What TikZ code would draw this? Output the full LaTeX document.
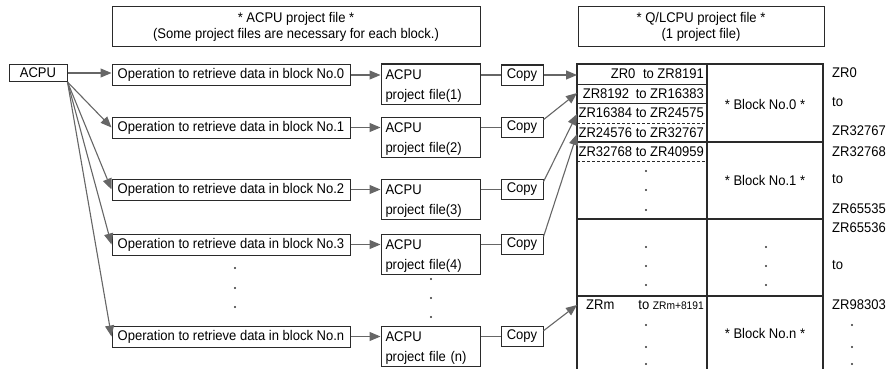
\documentclass[tikz,border=0pt]{standalone}
\usepackage{fontspec}
\setmainfont{Liberation Sans}[FakeStretch=0.93]
\usetikzlibrary{arrows.meta,calc}
\definecolor{ln}{HTML}{666666}
\definecolor{bx}{HTML}{2A2A2A}
\begin{document}
\begin{tikzpicture}[x=1pt,y=-1pt,
  font=\fontsize{14}{16}\selectfont,
  box/.style={draw=bx, line width=1pt, inner sep=0pt, text=black},
  hdrbox/.style={box, minimum height=40pt, align=center, font=\fontsize{14}{16}\selectfont},
  opbox/.style={box, minimum width=238pt, minimum height=21pt},
  pfbox/.style={box, minimum width=99pt, minimum height=40pt},
  pftext/.style={inner sep=0pt, text width=90pt, align=left, yshift=-2.5pt, font=\fontsize{14}{20}\selectfont},
  copybox/.style={box, minimum width=42pt, minimum height=20pt},
  conn/.style={draw=ln, line width=1.1pt},
  arr/.style={conn, -{Triangle[length=11pt,width=9pt,fill=ln]}},
  tbl/.style={draw=bx, line width=1.3pt},
  tbldash/.style={draw=bx, line width=1pt, dash pattern=on 3pt off 2pt}]
\useasboundingbox (0,0) rectangle (888,369);

% headers
\node[hdrbox, minimum width=368pt] (hdr1) at (296,27) {* ACPU project file *\\(Some project files are necessary for each block.)};
\node[hdrbox, minimum width=246pt] (hdr2) at (701,27) {* Q/LCPU project file *\\(1 project file)};

% ACPU source
\node[box, minimum width=58pt, minimum height=17pt] (acpu) at (38,73) {ACPU};

% operation boxes
\node[opbox] (op0) at (231,75) {Operation to retrieve data in block No.0};
\node[opbox] (op1) at (231,127.5) {Operation to retrieve data in block No.1};
\node[opbox] (op2) at (231,189.5) {Operation to retrieve data in block No.2};
\node[opbox] (op3) at (231,244.5) {Operation to retrieve data in block No.3};
\node[opbox] (opn) at (231,336.5) {Operation to retrieve data in block No.n};

% ACPU project file boxes
\node[pfbox, label={[pftext]center:{ACPU\\project file(1)}}] (pf0) at (430.5,84) {};
\node[pfbox, label={[pftext]center:{ACPU\\project file(2)}}] (pf1) at (430.5,137) {};
\node[pfbox, label={[pftext]center:{ACPU\\project file(3)}}] (pf2) at (430.5,199) {};
\node[pfbox, label={[pftext]center:{ACPU\\project file(4)}}] (pf3) at (430.5,254) {};
\node[pfbox, label={[pftext]center:{ACPU\\project file (n)}}] (pfn) at (430.5,346) {};

% copy boxes
\node[copybox] (cp0) at (522,75) {Copy};
\node[copybox] (cp1) at (522,127.5) {Copy};
\node[copybox] (cp2) at (522,189.5) {Copy};
\node[copybox] (cp3) at (522,244.5) {Copy};
\node[copybox] (cpn) at (522,336.5) {Copy};

% fan arrows from ACPU
\draw[arr] (acpu.east) -- (acpu.east -| op0.west);
\draw[arr] (acpu.south east) -- (op1.west);
\draw[arr] (acpu.south east) -- (op2.west);
\draw[arr] (acpu.south east) -- (op3.west);
\draw[arr] (acpu.south east) -- (opn.west);

% op -> project file -> copy
\foreach \k in {0,1,2,3,n}{
  \draw[arr] (op\k.east) -- (op\k.east -| pf\k.west);
  \draw[conn] (op\k.east -| pf\k.east) -- (cp\k.west);
}

% vertical dots
\foreach \yy in {268,288,307}{\fill[black!80] (235,\yy) circle (1.2pt);}
\foreach \yy in {279,298,317}{\fill[black!80] (431,\yy) circle (1.2pt);}

% table
\draw[tbl] (577,369) -- (577,64) -- (823,64) -- (823,369);
\draw[tbl] (707,64) -- (707,369);
\draw[tbl] (577,142) -- (823,142);
\draw[tbl] (577,219) -- (823,219);
\draw[tbl] (577,296) -- (823,296);
\draw[draw=bx, line width=1pt] (577,84) -- (707,84);
\draw[draw=bx, line width=1pt] (577,103) -- (707,103);
\draw[tbldash] (577,123) -- (707,123);
\draw[tbldash] (577,161) -- (707,161);

% row targets
\coordinate (r0) at (577,75);
\coordinate (r1) at (577,93);
\coordinate (r2) at (577,114);
\coordinate (r3) at (577,134);
\coordinate (rm) at (577,305);

\draw[arr] (cp0.east) -- (r0);
\draw[arr] (cp1.20) -- (r1);
\draw[arr] (cp2.20) -- (r2);
\draw[arr] (cp3.20) -- (r3);
\draw[arr] (cpn.15) -- (rm);

% left column texts
\node[anchor=east, inner sep=0pt] (t0) at (704,74) {ZR0\hspace{4pt} to ZR8191};
\node[anchor=east, inner sep=0pt] (t1) at (704,93.5) {ZR8192\hspace{3pt} to ZR16383};
\node[anchor=east, inner sep=0pt] (t2) at (704,113) {ZR16384 to ZR24575};
\node[anchor=east, inner sep=0pt] (t3) at (704,132.5) {ZR24576 to ZR32767};
\node[anchor=east, inner sep=0pt] (t4) at (704,151.5) {ZR32768 to ZR40959};
\node[anchor=west, inner sep=0pt] (tm1) at (586,305) {ZRm};
\node[anchor=east, inner sep=0pt] (tm2) at (704,305) {to {\fontsize{11}{12}\selectfont ZRm+8191}};

% table dots
\foreach \yy in {171,190,210,247,266,285,325,347,364}{\fill[black!80] (646,\yy) circle (1.2pt);}
\foreach \yy in {247,266,285}{\fill[black!80] (766,\yy) circle (1.2pt);}
\foreach \yy in {325,347,364}{\fill[black!80] (852,\yy) circle (1.2pt);}

% block labels
\node (b0) at (765,104) {* Block No.0 *};
\node (b1) at (765,180) {* Block No.1 *};
\node (bn) at (765,333) {* Block No.n *};

% right labels
\node[anchor=west, inner sep=0pt] (l1) at (832,73) {ZR0};
\node[anchor=west, inner sep=0pt] (l2) at (832,102) {to};
\node[anchor=west, inner sep=0pt] (l3) at (832,131) {ZR32767};
\node[anchor=west, inner sep=0pt] (l4) at (832,152) {ZR32768};
\node[anchor=west, inner sep=0pt] (l5) at (832,179) {to};
\node[anchor=west, inner sep=0pt] (l6) at (832,209) {ZR65535};
\node[anchor=west, inner sep=0pt] (l7) at (832,228) {ZR65536};
\node[anchor=west, inner sep=0pt] (l8) at (832,265) {to};
\node[anchor=west, inner sep=0pt] (l9) at (832,305) {ZR98303};
\end{tikzpicture}
\end{document}
